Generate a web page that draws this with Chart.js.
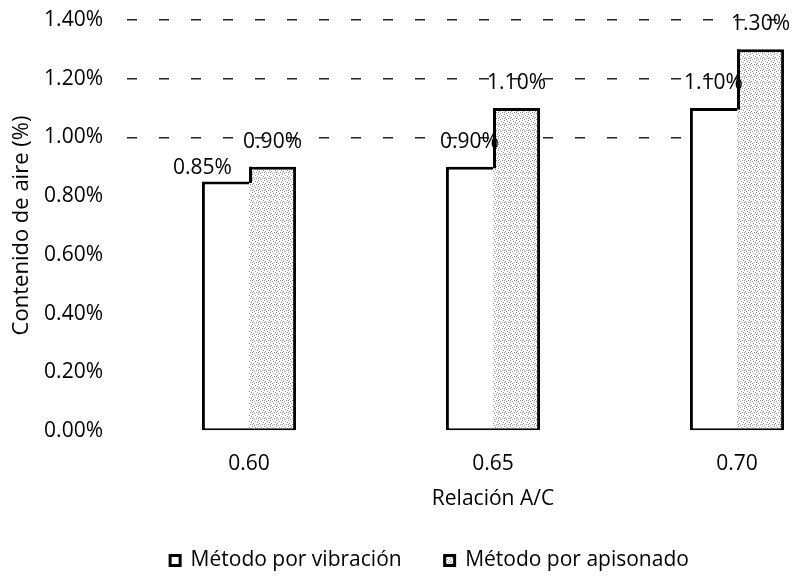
<!DOCTYPE html>
<html><head><meta charset="utf-8">
<script src="https://cdn.jsdelivr.net/npm/chart.js@4"></script>
<style>html,body{margin:0;padding:0;background:#fff;overflow:hidden}#wrap{width:792px;height:584px;overflow:hidden;position:relative}canvas{display:block}</style>
</head><body>
<div id="wrap"><canvas id="c" width="859" height="584"></canvas></div>
<script>
const categories = ['0.60', '0.65', '0.70'];
const vibracion = [0.85, 0.90, 1.10];
const apisonado = [0.90, 1.10, 1.30];
const seriesNames = ['Método por vibración', 'Método por apisonado'];
const yAxisTitle = 'Contenido de aire (%)';
const xAxisTitle = 'Relación A/C';

const FONT = "'Open Sans', sans-serif";
const canvas = document.getElementById('c');
const ctx = canvas.getContext('2d');

function speckle() {
  const p = document.createElement('canvas');
  p.width = 6; p.height = 6;
  const g = p.getContext('2d');
  g.fillStyle = '#ffffff'; g.fillRect(0, 0, 6, 6);
  g.fillStyle = '#8f8f8f';
  [[0,0],[3,1],[1,3],[4,4],[5,2],[2,5],[0,4]].forEach(([a,b]) => g.fillRect(a, b, 1, 1));
  return ctx.createPattern(p, 'repeat');
}

const stepPlugin = {
  id: 'step',
  afterDatasetsDraw(chart) {
    const m0 = chart.getDatasetMeta(0), m1 = chart.getDatasetMeta(1);
    const c = chart.ctx;
    c.save();
    c.strokeStyle = '#000';
    c.lineWidth = 3;
    m0.data.forEach((e0, i) => {
      const e1 = m1.data[i];
      const x = e1.x - e1.width / 2 + 1.5;
      c.beginPath();
      c.moveTo(x, Math.max(e0.y, e1.y) + 1.5);
      c.lineTo(x, Math.min(e0.y, e1.y));
      c.stroke();
    });
    c.restore();
  }
};

const labelPlugin = {
  id: 'vlabels',
  afterDatasetsDraw(chart, args, opts) {
    const c = chart.ctx;
    c.save();
    c.font = '21px ' + FONT;
    c.fillStyle = '#000';
    c.textAlign = 'center';
    c.textBaseline = 'middle';
    chart.data.datasets.forEach((ds, di) => {
      chart.getDatasetMeta(di).data.forEach((el, i) => {
        const adj = (opts.adjust[di] && opts.adjust[di][i]) || [0, -25];
        c.fillText(ds.data[i].toFixed(2) + '%', el.x + adj[0], el.y + adj[1]);
      });
    });
    c.restore();
  }
};

new Chart(canvas, {
  type: 'bar',
  data: {
    labels: categories,
    datasets: [
      {
        label: seriesNames[0],
        data: vibracion,
        backgroundColor: '#ffffff',
        borderColor: '#000000',
        borderWidth: {top: 3, left: 3, right: 0, bottom: 2},
        borderSkipped: false,
        categoryPercentage: 0.386,
        barPercentage: 1.0
      },
      {
        label: seriesNames[1],
        data: apisonado,
        backgroundColor: speckle(),
        borderColor: '#000000',
        borderWidth: {top: 3, left: 0, right: 3, bottom: 2},
        borderSkipped: false,
        categoryPercentage: 0.386,
        barPercentage: 1.0
      }
    ]
  },
  options: {
    responsive: false,
    animation: false,
    layout: {padding: {top: 20, left: 0, right: 0, bottom: 3}},
    plugins: {
      tooltip: {enabled: false},
      vlabels: {adjust: {0: {0: [-23, -13]}}},
      legend: {
        position: 'bottom',
        labels: {
          font: {family: FONT, size: 21},
          color: '#000',
          boxWidth: 10,
          boxHeight: 10,
          padding: 43,
          generateLabels(chart) {
            const items = Chart.defaults.plugins.legend.labels.generateLabels(chart);
            items.forEach(it => { it.lineWidth = 3; it.strokeStyle = '#000'; });
            return items;
          }
        }
      }
    },
    scales: {
      x: {
        grid: {display: false, drawTicks: false},
        border: {display: false},
        ticks: {font: {family: FONT, size: 21}, color: '#000', padding: 20},
        title: {display: true, text: xAxisTitle, font: {family: FONT, size: 21}, color: '#000', padding: {top: 0, bottom: -5}},
        afterFit(scale) { scale.height = 76; }
      },
      y: {
        min: 0, max: 1.4,
        grid: {
          drawTicks: false,
          color: ctx => (ctx.tick && ctx.tick.value >= 0.99) ? '#222' : 'rgba(0,0,0,0)',
          lineWidth: 1.5
        },
        border: {display: false, dash: [10, 22]},
        ticks: {
          stepSize: 0.2,
          font: {family: FONT, size: 21},
          color: '#000',
          padding: 24,
          callback: v => v.toFixed(2) + '%'
        },
        title: {display: true, text: yAxisTitle, font: {family: FONT, size: 22}, color: '#000', padding: {top: 9, bottom: 0}},
        afterFit(scale) { scale.width = 127; scale.paddingTop = 0; scale.paddingBottom = 0; }
      }
    }
  },
  plugins: [stepPlugin, labelPlugin]
});
</script>
</body></html>
